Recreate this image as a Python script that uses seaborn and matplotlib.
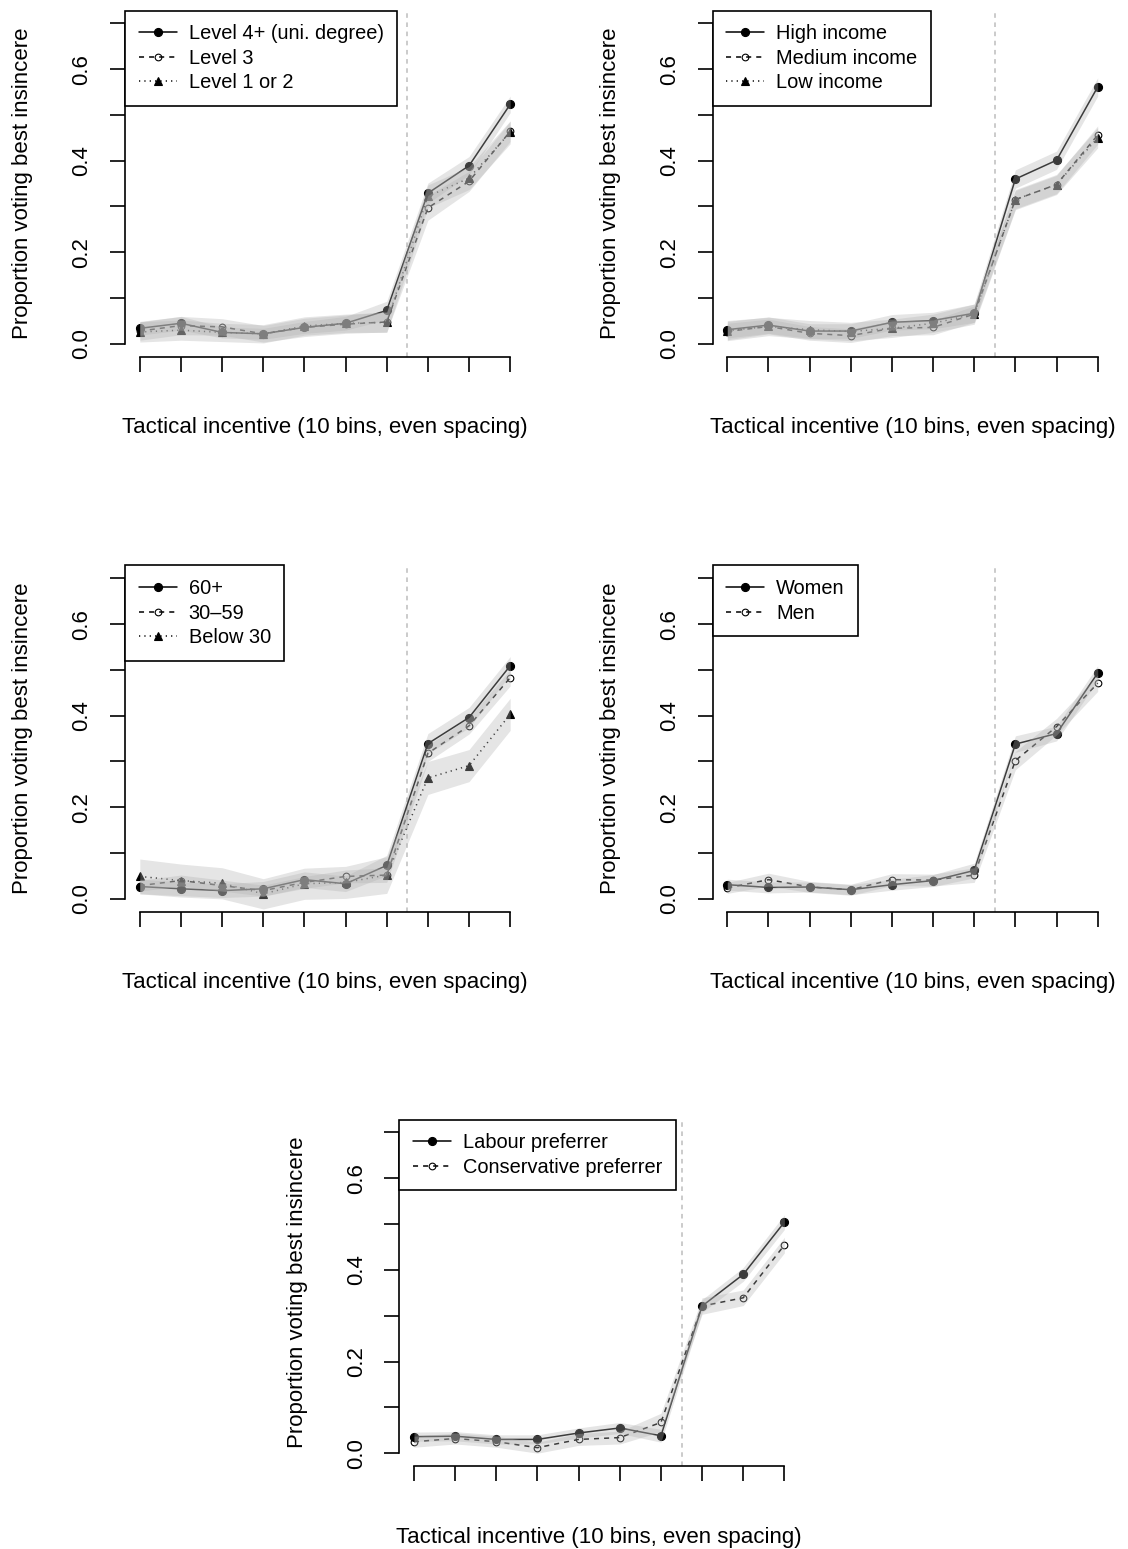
import matplotlib
matplotlib.use("Agg")
import matplotlib.pyplot as plt
import numpy as np
import pandas as pd
import seaborn as sns

bins = list(range(1, 11))

# education
edu_labels = ["Level 4+ (uni. degree)", "Level 3", "Level 1 or 2"]
edu_high = [0.034, 0.045, 0.025, 0.022, 0.036, 0.045, 0.073, 0.329, 0.389, 0.523]
edu_mid = [0.028, 0.040, 0.037, 0.022, 0.036, 0.043, 0.048, 0.297, 0.355, 0.464]
edu_low = [0.026, 0.030, 0.025, 0.022, 0.039, 0.045, 0.047, 0.322, 0.362, 0.462]
edu_high_ci = [0.015, 0.015, 0.012, 0.012, 0.013, 0.015, 0.020, 0.022, 0.020, 0.018]
edu_mid_ci = [0.020, 0.020, 0.018, 0.018, 0.020, 0.020, 0.022, 0.027, 0.022, 0.022]
edu_low_ci = [0.022, 0.022, 0.020, 0.020, 0.020, 0.020, 0.022, 0.025, 0.025, 0.025]

# income
inc_labels = ["High income", "Medium income", "Low income"]
inc_high = [0.031, 0.041, 0.028, 0.028, 0.047, 0.051, 0.067, 0.360, 0.401, 0.561]
inc_mid = [0.027, 0.038, 0.023, 0.018, 0.034, 0.036, 0.065, 0.315, 0.348, 0.456]
inc_low = [0.029, 0.038, 0.031, 0.027, 0.034, 0.045, 0.065, 0.315, 0.348, 0.450]
inc_high_ci = [0.018, 0.018, 0.016, 0.016, 0.017, 0.018, 0.020, 0.020, 0.020, 0.020]
inc_mid_ci = [0.018, 0.016, 0.015, 0.015, 0.016, 0.016, 0.018, 0.020, 0.020, 0.020]
inc_low_ci = [0.022, 0.020, 0.020, 0.020, 0.020, 0.020, 0.022, 0.022, 0.022, 0.022]

# age
age_labels = ["60+", "30\u201359", "Below 30"]
age_old = [0.027, 0.022, 0.018, 0.022, 0.042, 0.033, 0.073, 0.339, 0.396, 0.509]
age_mid = [0.029, 0.040, 0.029, 0.018, 0.036, 0.049, 0.052, 0.318, 0.378, 0.483]
age_young = [0.049, 0.040, 0.034, 0.011, 0.033, 0.036, 0.052, 0.264, 0.291, 0.403]
age_old_ci = [0.016, 0.015, 0.015, 0.016, 0.017, 0.017, 0.022, 0.022, 0.022, 0.020]
age_mid_ci = [0.012, 0.012, 0.012, 0.012, 0.013, 0.014, 0.016, 0.018, 0.018, 0.018]
age_young_ci = [0.038, 0.036, 0.034, 0.033, 0.034, 0.035, 0.040, 0.036, 0.035, 0.035]

# gender
sex_labels = ["Women", "Men"]
sex_women = [0.031, 0.025, 0.026, 0.020, 0.031, 0.040, 0.062, 0.338, 0.361, 0.493]
sex_men = [0.024, 0.042, 0.026, 0.020, 0.042, 0.041, 0.052, 0.302, 0.376, 0.471]
sex_women_ci = [0.012, 0.012, 0.011, 0.011, 0.012, 0.013, 0.016, 0.018, 0.016, 0.016]
sex_men_ci = [0.012, 0.014, 0.012, 0.012, 0.013, 0.013, 0.016, 0.020, 0.018, 0.018]

# party preference
party_labels = ["Labour preferrer", "Conservative preferrer"]
party_lab = [0.036, 0.037, 0.030, 0.030, 0.044, 0.055, 0.038, 0.321, 0.390, 0.504]
party_con = [0.025, 0.032, 0.025, 0.012, 0.030, 0.034, 0.067, 0.321, 0.339, 0.454]
party_lab_ci = [0.010, 0.010, 0.010, 0.010, 0.011, 0.012, 0.014, 0.014, 0.015, 0.016]
party_con_ci = [0.012, 0.012, 0.012, 0.012, 0.013, 0.014, 0.020, 0.018, 0.017, 0.017]

# solid/filled circle, dashed/open circle, dotted/triangle
STYLES = [
    ("-", "o", "black", 5.8),
    ((0, (3.3, 3.3)), "o", "none", 4.8),
    ((0, (0.8, 2.7)), "^", "black", 6.0),
]
BAND = (0.7, 0.7, 0.7)

sns.set_theme(style="white")
plt.rcParams["font.family"] = ["Liberation Sans", "DejaVu Sans"]
for key in ["text.color", "axes.labelcolor", "xtick.color", "ytick.color"]:
    plt.rcParams[key] = "black"

W, H = 1128, 1549
fig = plt.figure(figsize=(W / 100, H / 100), dpi=100)


def make_axes(left, top, bottom, width=400):
    return fig.add_axes([left / W, 1 - bottom / H, width / W, (bottom - top) / H])


def draw_panel(ax, labels, values, cis):
    lines = []
    for i, (lab, y) in enumerate(zip(labels, values)):
        ls, mk, fc, ms = STYLES[i]
        df = pd.DataFrame({"bin": bins, "prop": y})
        sns.lineplot(data=df, x="bin", y="prop", ax=ax, color="black",
                     linestyle=ls, marker=mk, markersize=ms,
                     markerfacecolor=fc, markeredgecolor="black",
                     markeredgewidth=0.8, linewidth=1.1, zorder=2)
        lines.append(ax.lines[-1])

    # confidence bands sit on top of the lines, as in the original
    for y, hw in zip(values, cis):
        y = np.array(y)
        hw = np.array(hw)
        ax.fill_between(bins, y - hw, y + hw, color=BAND, alpha=0.34,
                        linewidth=0, zorder=3)

    ax.axvline(7.5, color="#bdbdbd", linewidth=1.1,
               linestyle=(0, (3, 3)), zorder=1)

    ax.set_xlim(0.64, 10.36)
    ax.set_ylim(-0.028, 0.728)
    ax.set_xticks(bins)
    ax.set_xticklabels([])
    ax.set_yticks(np.arange(0, 0.71, 0.1))
    ax.set_yticklabels(["0.0", "", "0.2", "", "0.4", "", "0.6", ""],
                       rotation=90, ha="center", va="center", fontsize=16)
    ax.tick_params(axis="both", direction="out", length=11, width=1.2,
                   colors="black", bottom=True, left=True)
    ax.tick_params(axis="y", pad=20)

    for side in ["top", "right"]:
        ax.spines[side].set_visible(False)
    ax.spines["left"].set_bounds(0, 0.7)
    ax.spines["bottom"].set_bounds(1, 10)
    for side in ["left", "bottom"]:
        ax.spines[side].set_linewidth(1.2)
        ax.spines[side].set_color("black")

    ax.set_xlabel("Tactical incentive (10 bins, even spacing)", fontsize=16)
    ax.set_ylabel("Proportion voting best insincere", fontsize=16)
    ax.xaxis.set_label_coords(0.5, -0.205)
    ax.xaxis.label.set_va("center")
    ax.yaxis.set_label_coords(-0.255, 0.5)
    ax.yaxis.label.set_va("center")

    leg = ax.legend(lines, labels, loc="upper left", bbox_to_anchor=(0, 1),
                    borderaxespad=0, fancybox=False, framealpha=1,
                    edgecolor="black", fontsize=14.4, handlelength=1.9,
                    handletextpad=0.6, labelspacing=0.28, borderpad=0.68)
    leg.get_frame().set_linewidth(1.2)
    for t in leg.get_texts():
        t.set_color("black")
    leg.set_zorder(5)


rows = [(10.5, 356.7), (565.5, 911.7), (1119.5, 1466.0)]

ax1 = make_axes(125, *rows[0])
draw_panel(ax1, edu_labels, [edu_high, edu_mid, edu_low],
           [edu_high_ci, edu_mid_ci, edu_low_ci])

ax2 = make_axes(712.5, *rows[0])
draw_panel(ax2, inc_labels, [inc_high, inc_mid, inc_low],
           [inc_high_ci, inc_mid_ci, inc_low_ci])

ax3 = make_axes(125, *rows[1])
draw_panel(ax3, age_labels, [age_old, age_mid, age_young],
           [age_old_ci, age_mid_ci, age_young_ci])

ax4 = make_axes(712.5, *rows[1])
draw_panel(ax4, sex_labels, [sex_women, sex_men], [sex_women_ci, sex_men_ci])

ax5 = make_axes(399.2, *rows[2])
draw_panel(ax5, party_labels, [party_lab, party_con],
           [party_lab_ci, party_con_ci])

fig.savefig("out.png", dpi=100, facecolor="white")
